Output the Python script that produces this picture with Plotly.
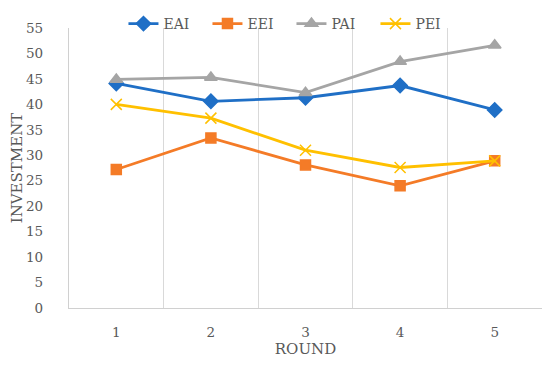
import plotly.graph_objects as go

rounds = [1, 2, 3, 4, 5]
eai = [44.1, 40.6, 41.3, 43.7, 38.9]
eei = [27.2, 33.4, 28.1, 24.0, 28.9]
pai = [44.9, 45.3, 42.3, 48.4, 51.6]
pei = [40.0, 37.3, 31.0, 27.6, 28.9]
y_ticks = list(range(0, 60, 5))

font = "DejaVu Serif, Liberation Serif, serif"
grey = "#595959"

fig = go.Figure()
series = [
    ("EAI", eai, "#1F6FC6", "diamond", 11),
    ("EEI", eei, "#F47B27", "square", 10),
    ("PAI", pai, "#A5A5A5", "triangle-up", 11),
    ("PEI", pei, "#FFC000", "x-thin", 11),
]
for name, vals, col, sym, sz in series:
    fig.add_trace(go.Scatter(
        x=rounds, y=vals, name=name, mode="lines+markers",
        line=dict(color=col, width=2.8),
        marker=dict(symbol=sym, size=sz, color=col, line=dict(color=col, width=1.5)),
    ))

# page body has an 8px margin, so the figure is offset by 8px
fig.update_layout(
    width=542, height=350,
    margin=dict(l=61, r=8, t=20, b=50, autoexpand=False),
    paper_bgcolor="white", plot_bgcolor="white",
    font=dict(family=font, color=grey, size=14),
    showlegend=True,
    legend=dict(orientation="h", xref="container", yref="container",
                x=0.523, xanchor="center", y=1.0, yanchor="top",
                font=dict(size=14, color=grey),
                entrywidth=39, entrywidthmode="pixels",
                bgcolor="rgba(0,0,0,0)"),
    xaxis=dict(
        range=[0.5, 5.5], tickvals=rounds, ticktext=[str(r) for r in rounds],
        showgrid=False, showline=True, linecolor="#D0D0D0", linewidth=1.3,
        ticks="", zeroline=False, automargin=False,
        minor=dict(tickvals=[1.5, 2.5, 3.5, 4.5, 5.5], showgrid=True,
                   gridcolor="#D9D9D9", gridwidth=1.3, ticks=""),
        title=dict(text="ROUND", font=dict(size=15, color=grey), standoff=8),
        tickfont=dict(size=13.5, color=grey),
        ticklabelstandoff=12,
    ),
    yaxis=dict(
        range=[0, 55], tickvals=y_ticks, showgrid=False,
        showline=True, linecolor="#D0D0D0", linewidth=1.3, ticks="",
        zeroline=False, automargin=False,
        title=dict(text="INVESTMENT", font=dict(size=15, color=grey), standoff=12),
        tickfont=dict(size=13.5, color=grey),
        ticklabelstandoff=22,
    ),
)

fig.write_html("out.html")
